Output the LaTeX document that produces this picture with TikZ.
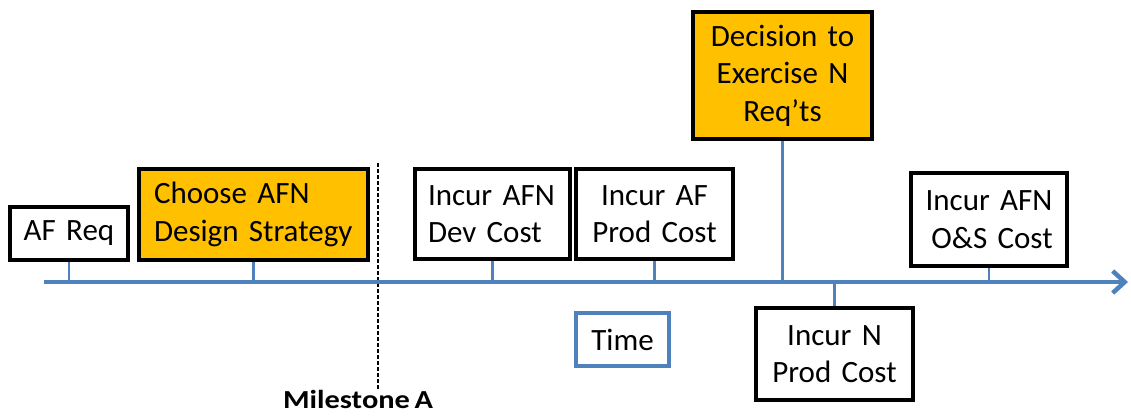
\documentclass[tikz,border=0pt]{standalone}
\usepackage{fontspec}
\setmainfont{Carlito}
\usetikzlibrary{arrows.meta}
\definecolor{axisblue}{HTML}{4F81BD}
\definecolor{decgold}{HTML}{FFC000}
\newcommand\evtfont{\fontsize{31}{37.5}\selectfont\spaceskip=6.2pt plus 2pt minus 1pt\relax}
\begin{document}
\begin{tikzpicture}[x=1pt,y=-1pt,
  evt/.style={draw=black,line width=3.2pt,fill=white,rectangle,inner xsep=0pt,inner ysep=0pt,
    font=\evtfont,align=center},
  keyevt/.style={evt,fill=decgold},
  tickline/.style={draw=axisblue,line width=2.2pt},
  axisline/.style={draw=axisblue,line width=4.5pt,-{Straight Barb[length=12pt,width=22pt]}},
  ]
\useasboundingbox (0,0) rectangle (1131,415);

% time axis
\coordinate (axL) at (44,282);
\coordinate (axR) at (1128,282);

% events above the axis
\node[evt,minimum width=118pt,minimum height=53pt,text width=100pt] (afreq) at (69,233.5) {AF Req};
\node[keyevt,minimum width=229pt,minimum height=91pt,text width=199pt,align=left] (choose) at (253.5,214.5) {Choose AFN\\Design Strategy};
\node[evt,minimum width=155pt,minimum height=90pt,text width=129pt,align=left] (devcost) at (492.5,214) {Incur AFN\\Dev Cost};
\node[evt,minimum width=157pt,minimum height=90pt,text width=145pt] (afprod) at (654.5,214) {Incur AF\\Prod Cost};
\node[keyevt,minimum width=179pt,minimum height=127pt,text width=170pt] (decide) at (782.5,75.5) {Decision to\\Exercise N\\Req’ts};
\node[evt,minimum width=156pt,minimum height=93pt,text width=150pt] (oscost) at (989,219.5) {Incur AFN\\\hspace{6pt}O\&S Cost};

% event below the axis
\node[evt,minimum width=157pt,minimum height=92pt,text width=145pt] (nprod) at (834.5,354) {Incur N\\Prod Cost};

% axis label
\node[evt,draw=axisblue,minimum width=93pt,minimum height=53pt,text width=85pt] (time) at (622.5,339.5) {Time};

% milestone marker
\node[font=\fontsize{26}{28}\bfseries\selectfont,inner sep=0pt] (msA) at (358,399) {\scalebox{1.17}[1]{Milestone\hspace{-2pt} A}};
\coordinate (msTop) at (378,163);
\draw[black,line width=2pt,dash pattern=on 4pt off 2pt] (msTop) -- (msTop |- msA.north);

% ticks joining events to the axis
\foreach \n in {afreq,choose,devcost,afprod,decide,oscost}
  \draw[tickline] (\n.south) -- (\n.south |- axL);
\draw[tickline] (nprod.north) -- (nprod.north |- axL);

\draw[axisline] (axL) -- (axR);
\end{tikzpicture}
\end{document}
